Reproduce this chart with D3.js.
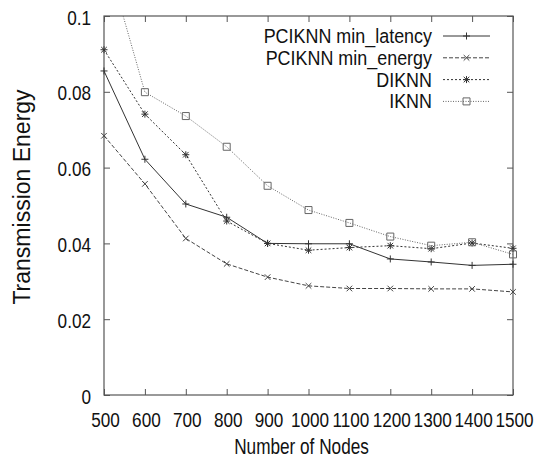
<!DOCTYPE html>
<html>
<head>
<meta charset="utf-8">
<script src="https://cdn.jsdelivr.net/npm/d3@7"></script>
<style>
  body { margin: 0; background: #fff; }
  svg text { font-family: "Liberation Sans", Arial, sans-serif; fill: #111; }
</style>
</head>
<body>
<main></main>
<script>
const width = 536;
const height = 461;
const margin = { top: 16, right: 23, bottom: 66, left: 104 };

// data
const nodes = [500, 600, 700, 800, 900, 1000, 1100, 1200, 1300, 1400, 1500];
const minLatency = [0.0855, 0.0622, 0.0504, 0.0469, 0.0400, 0.0399, 0.0399, 0.0359, 0.0351, 0.0342, 0.0345];
const minEnergy = [0.0684, 0.0557, 0.0413, 0.0346, 0.0311, 0.0288, 0.0281, 0.0281, 0.0280, 0.0280, 0.0272];
const diknn = [0.0911, 0.0741, 0.0634, 0.0459, 0.0400, 0.0382, 0.0389, 0.0394, 0.0386, 0.0401, 0.0387];
const iknn = [0.1177, 0.0799, 0.0736, 0.0655, 0.0552, 0.0488, 0.0454, 0.0418, 0.0394, 0.0403, 0.0371];
const seriesNames = ['PCIKNN min_latency', 'PCIKNN min_energy', 'DIKNN', 'IKNN'];
const yTicks = [0, 0.02, 0.04, 0.06, 0.08, 0.1];

const series = [
  { name: seriesNames[0], values: minLatency, dash: null, color: '#333', marker: 'plus' },
  { name: seriesNames[1], values: minEnergy, dash: '4,2', color: '#444', marker: 'cross' },
  { name: seriesNames[2], values: diknn, dash: '2,2', color: '#333', marker: 'star' },
  { name: seriesNames[3], values: iknn, dash: '1,1.5', color: '#666', marker: 'box' }
];

const svg = d3.select('main')
  .append('svg')
  .attr('width', width)
  .attr('height', height);

const innerW = width - margin.left - margin.right;
const innerH = height - margin.top - margin.bottom;

const xScale = d3.scaleLinear().domain([500, 1500]).range([margin.left, margin.left + innerW]);
const yScale = d3.scaleLinear().domain([0, 0.1]).range([margin.top + innerH, margin.top]);

svg.append('clipPath').attr('id', 'plotclip')
  .append('rect')
  .attr('x', margin.left).attr('y', margin.top)
  .attr('width', innerW).attr('height', innerH);

// axes, ticks pointing inward
const xAxis = d3.axisBottom(xScale).tickValues(nodes).tickSize(-6).tickPadding(0).tickFormat(d3.format('d'));
const yAxis = d3.axisLeft(yScale).tickValues(yTicks).tickSize(-6).tickPadding(0).tickFormat(d => d === 0 ? '0' : d3.format('.2~f')(d));

const gx = svg.append('g')
  .attr('transform', `translate(0,${margin.top + innerH})`)
  .call(xAxis);
gx.selectAll('text')
  .attr('y', 0).attr('dy', 0)
  .attr('transform', 'translate(1,32) scale(0.88,1)')
  .style('font-size', '19.5px');

const gy = svg.append('g')
  .attr('transform', `translate(${margin.left},0)`)
  .call(yAxis);
gy.selectAll('text')
  .attr('x', 0).attr('dy', '0.36em')
  .attr('transform', 'translate(-13,1) scale(0.88,1)')
  .style('font-size', '19.5px');

// mirrored ticks on top and right
svg.append('g')
  .attr('transform', `translate(0,${margin.top})`)
  .call(d3.axisTop(xScale).tickValues(nodes).tickSize(-6).tickFormat(''));
svg.append('g')
  .attr('transform', `translate(${margin.left + innerW},0)`)
  .call(d3.axisRight(yScale).tickValues(yTicks).tickSize(-6).tickFormat(''));

svg.selectAll('.domain').remove();
svg.selectAll('.tick line').attr('stroke', '#555');

svg.append('rect')
  .attr('x', margin.left).attr('y', margin.top)
  .attr('width', innerW).attr('height', innerH)
  .attr('fill', 'none')
  .attr('stroke', '#555')
  .attr('stroke-width', 1.2);

// axis titles
svg.append('text')
  .attr('transform', `translate(${margin.left + innerW / 2 - 7},454) scale(0.8,1)`)
  .attr('text-anchor', 'middle')
  .style('font-size', '21.5px')
  .text('Number of Nodes');

svg.append('text')
  .attr('transform', 'translate(30,197) rotate(-90)')
  .attr('text-anchor', 'middle')
  .style('font-size', '23px')
  .text('Transmission Energy');

function drawMarker(g, type, x, y, color) {
  const r = 3.5;
  const p = d3.path();
  if (type === 'plus' || type === 'star') {
    p.moveTo(x - r, y); p.lineTo(x + r, y);
    p.moveTo(x, y - r); p.lineTo(x, y + r);
  }
  if (type === 'cross' || type === 'star') {
    p.moveTo(x - r * 0.8, y - r * 0.8); p.lineTo(x + r * 0.8, y + r * 0.8);
    p.moveTo(x - r * 0.8, y + r * 0.8); p.lineTo(x + r * 0.8, y - r * 0.8);
  }
  if (type === 'box') {
    p.rect(x - r, y - r, r * 2, r * 2);
  }
  g.append('path')
    .attr('d', p.toString())
    .attr('fill', 'none')
    .attr('stroke', color)
    .attr('stroke-width', 1);
}

const line = d3.line()
  .x((d, i) => xScale(nodes[i]))
  .y(d => yScale(d));

const plot = svg.append('g').attr('clip-path', 'url(#plotclip)');

series.forEach(s => {
  plot.append('path')
    .attr('d', line(s.values))
    .attr('fill', 'none')
    .attr('stroke', s.color)
    .attr('stroke-width', 1)
    .attr('stroke-dasharray', s.dash);
  s.values.forEach((v, i) => {
    if (v <= 0.1) drawMarker(svg, s.marker, xScale(nodes[i]), yScale(v), s.color);
  });
});

// legend
const legend = svg.append('g').attr('id', 'legend');
series.forEach((s, i) => {
  const cy = 36 + i * 21.8;
  legend.append('text')
    .attr('transform', `translate(432,${cy}) scale(0.92,1)`)
    .attr('dy', '0.36em')
    .attr('text-anchor', 'end')
    .style('font-size', '19.5px')
    .text(s.name);
  legend.append('line')
    .attr('x1', 443).attr('x2', 490)
    .attr('y1', cy).attr('y2', cy)
    .attr('stroke', s.color)
    .attr('stroke-width', 1)
    .attr('stroke-dasharray', s.dash);
  drawMarker(legend, s.marker, 466.5, cy, s.color);
});
</script>
</body>
</html>
